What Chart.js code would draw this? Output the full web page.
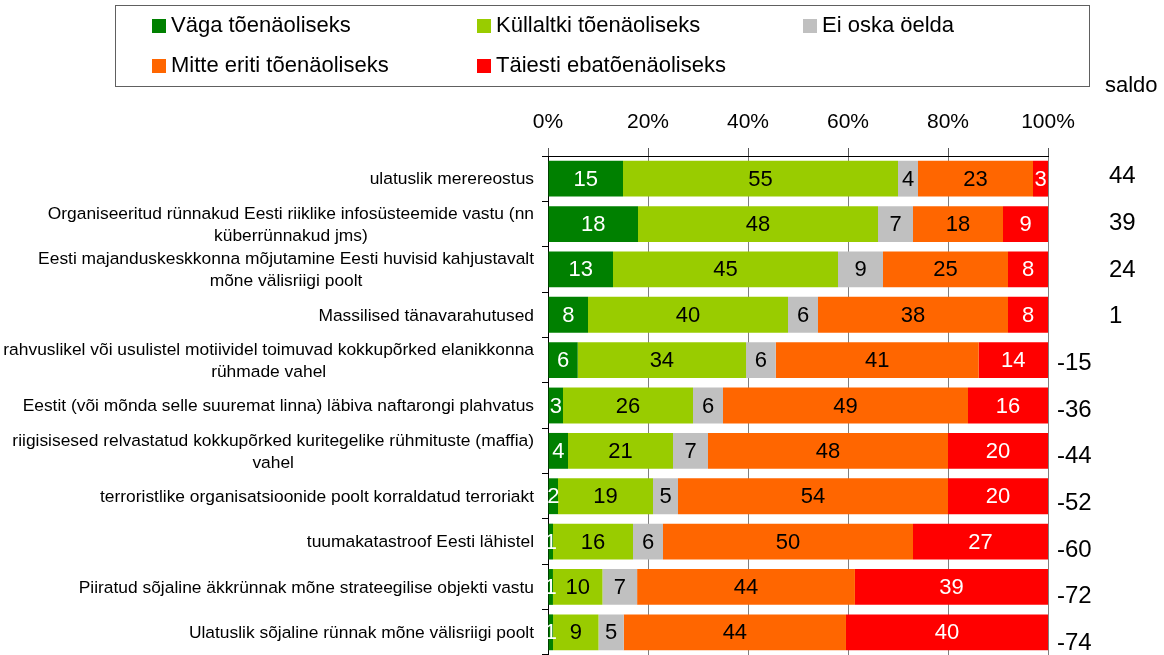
<!DOCTYPE html>
<html><head><meta charset="utf-8">
<script src="https://cdn.jsdelivr.net/npm/chart.js@4/dist/chart.umd.min.js"></script>
<style>html,body{margin:0;padding:0;background:#fff;overflow:hidden}canvas{display:block}</style>
</head><body>
<canvas id="c" width="1164" height="655"></canvas>
<script>
const categories = [
  ['ulatuslik merereostus'],
  ['Organiseeritud rünnakud Eesti riiklike infosüsteemide vastu (nn', 'küberrünnakud jms)'],
  ['Eesti majanduskeskkonna mõjutamine Eesti huvisid kahjustavalt', 'mõne välisriigi poolt'],
  ['Massilised tänavarahutused'],
  ['rahvuslikel või usulistel motiividel toimuvad kokkupõrked elanikkonna', 'rühmade vahel'],
  ['Eestit (või mõnda selle suuremat linna) läbiva naftarongi plahvatus'],
  ['riigisisesed relvastatud kokkupõrked kuritegelike rühmituste (maffia)', 'vahel'],
  ['terroristlike organisatsioonide poolt korraldatud terroriakt'],
  ['tuumakatastroof Eesti lähistel'],
  ['Piiratud sõjaline äkkrünnak mõne strateegilise objekti vastu'],
  ['Ulatuslik sõjaline rünnak mõne välisriigi poolt']
];
const seriesNames = ['Väga tõenäoliseks', 'Küllaltki tõenäoliseks', 'Ei oska öelda', 'Mitte eriti tõenäoliseks', 'Täiesti ebatõenäoliseks'];
const vagaToenaoline     = [15, 18, 13, 8, 6, 3, 4, 2, 1, 1, 1];
const kullaltkiToenaoline = [55, 48, 45, 40, 34, 26, 21, 19, 16, 10, 9];
const eiOskaOelda        = [4, 7, 9, 6, 6, 6, 7, 5, 6, 7, 5];
const mitteEriti         = [23, 18, 25, 38, 41, 49, 48, 54, 50, 44, 44];
const taiestiEba         = [3, 9, 8, 8, 14, 16, 20, 20, 27, 39, 40];
const saldo              = [44, 39, 24, 1, -15, -36, -44, -52, -60, -72, -74];
const xTickValues        = [0, 20, 40, 60, 80, 100];
const saldoTitle = 'saldo';

const seriesValues = [vagaToenaoline, kullaltkiToenaoline, eiOskaOelda, mitteEriti, taiestiEba];
const seriesColors = ['#008000', '#99CC00', '#C0C0C0', '#FF6600', '#FF0000'];
const labelColors = ['#FFFFFF', '#000000', '#000000', '#000000', '#FFFFFF'];

const rowSums = categories.map((_, i) => seriesValues.reduce((s, arr) => s + arr[i], 0));

const FONT = '"Liberation Sans", Arial, sans-serif';

const datasets = seriesValues.map((vals, k) => ({
  label: seriesNames[k],
  data: vals.map((v, i) => v / rowSums[i] * 100),
  raw: vals,
  backgroundColor: seriesColors[k],
  borderWidth: 0,
  barPercentage: 0.79,
  categoryPercentage: 1.0
}));

const overlayPlugin = {
  id: 'overlay',
  afterDatasetsDraw(chart) {
    const ctx = chart.ctx;
    ctx.save();
    ctx.font = '22px ' + FONT;
    ctx.textAlign = 'center';
    ctx.textBaseline = 'middle';
    chart.data.datasets.forEach((ds, k) => {
      const meta = chart.getDatasetMeta(k);
      meta.data.forEach((bar, i) => {
        const cx = (bar.x + bar.base) / 2;
        ctx.fillStyle = labelColors[k];
        ctx.fillText(String(ds.raw[i]), cx, bar.y + 1);
      });
    });
    ctx.restore();
  },
  afterDraw(chart) {
    const ctx = chart.ctx;
    const area = chart.chartArea;
    const yScale = chart.scales.y;
    ctx.save();
    // category labels (block right-aligned, lines centered)
    ctx.font = '17.4px ' + FONT;
    ctx.fillStyle = '#000';
    ctx.textAlign = 'center';
    ctx.textBaseline = 'middle';
    const rightEdge = area.left - 14;
    const lineH = 22;
    categories.forEach((lines, i) => {
      const w = Math.max(...lines.map(l => ctx.measureText(l).width));
      const cx = rightEdge - w / 2;
      const yc = yScale.getPixelForValue(i);
      const y0 = yc - (lines.length - 1) * lineH / 2 + 1;
      lines.forEach((l, j) => ctx.fillText(l, cx, y0 + j * lineH));
    });
    // saldo column
    ctx.font = '24px ' + FONT;
    ctx.textAlign = 'left';
    saldo.forEach((v, i) => {
      const y = yScale.getPixelForValue(i) - 2 + i * 1.3;
      const x = v >= 0 ? area.right + 61 : area.right + 9;
      ctx.fillText(String(v), x, y);
    });
    ctx.font = '22px ' + FONT;
    ctx.fillText(saldoTitle, area.right + 57, 86);
    // legend box
    ctx.strokeStyle = '#606060';
    ctx.lineWidth = 1;
    ctx.strokeRect(115.5, 5.5, 974, 81);
    const cols = [152, 477, 803];
    const rows = [26, 66];
    ctx.font = '22px ' + FONT;
    chart.data.datasets.forEach((ds, k) => {
      const cx = cols[k % 3];
      const cy = rows[Math.floor(k / 3)];
      ctx.fillStyle = ds.backgroundColor;
      ctx.fillRect(cx, cy - 7, 14, 14);
      ctx.fillStyle = '#000';
      ctx.fillText(ds.label, cx + 19, cy);
    });
    ctx.restore();
  }
};

new Chart(document.getElementById('c'), {
  type: 'bar',
  data: { labels: categories.map(l => l.join(' ')), datasets },
  options: {
    indexAxis: 'y',
    responsive: false,
    animation: false,
    events: [],
    layout: { padding: { left: 0, right: 116, top: 0, bottom: -1.5 } },
    plugins: { legend: { display: false }, tooltip: { enabled: false } },
    scales: {
      x: {
        position: 'top',
        stacked: true,
        min: 0, max: 100,
        afterBuildTicks(scale) { scale.ticks = xTickValues.map(v => ({ value: v })); },
        afterFit(scale) { scale.height = 156; },
        ticks: {
          callback: v => v + '%',
          font: { family: FONT, size: 21 },
          color: '#000',
          padding: 13,
          maxRotation: 0
        },
        grid: { color: '#808080', lineWidth: 1, drawTicks: true, tickLength: 8, tickColor: '#555' },
        border: { display: true, color: '#000', width: 1 }
      },
      y: {
        stacked: true,
        offset: true,
        afterFit(scale) { scale.width = 548; },
        ticks: { display: false },
        grid: { drawOnChartArea: false, drawTicks: true, tickLength: 6, color: '#000', offset: true },
        border: { display: true, color: '#000', width: 1 }
      }
    }
  },
  plugins: [overlayPlugin]
});
</script>
</body></html>
